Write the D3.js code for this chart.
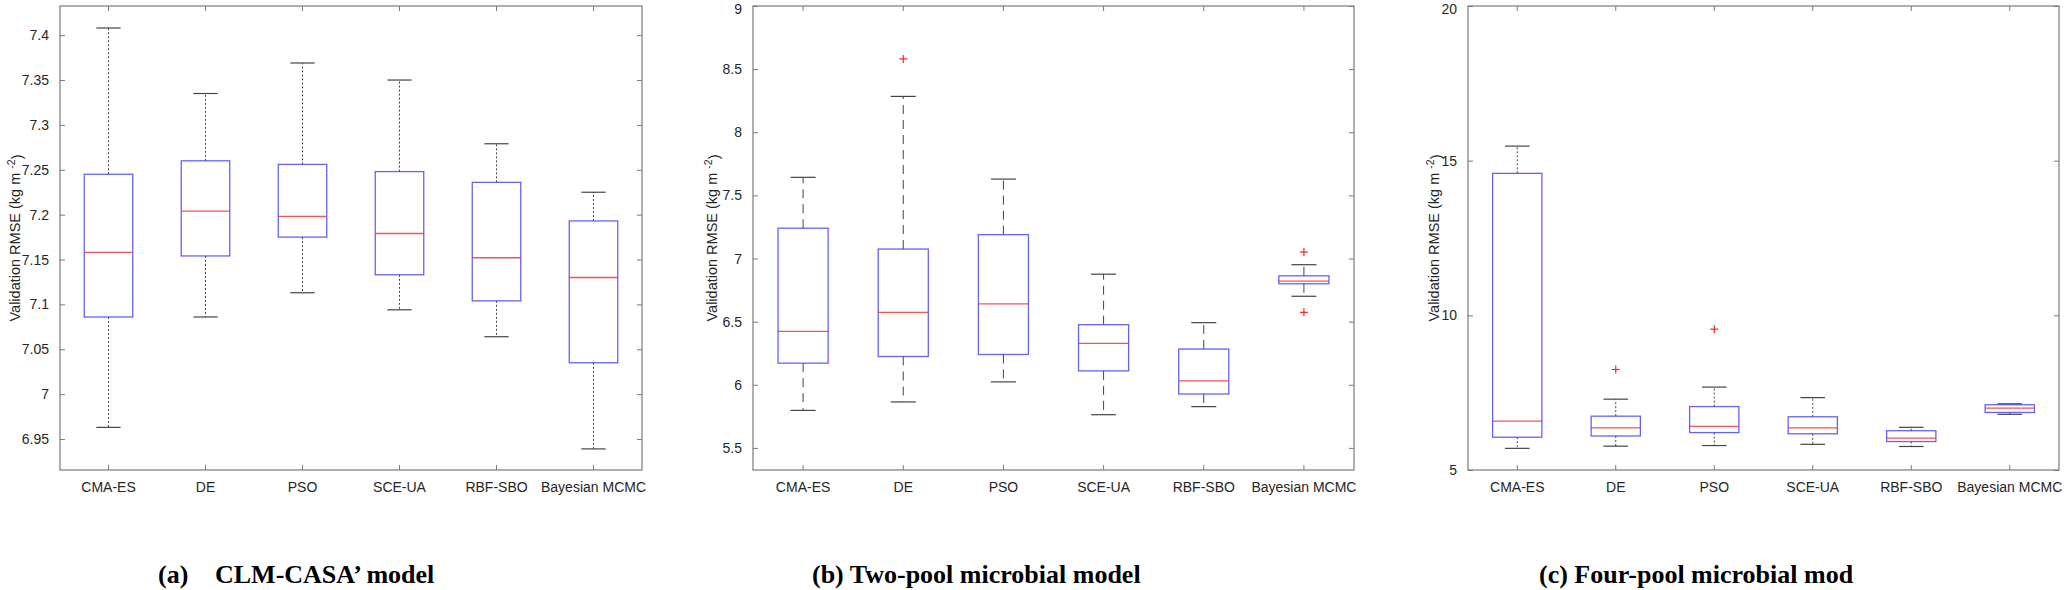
<!DOCTYPE html>
<html><head><meta charset="utf-8">
<script src="https://cdn.jsdelivr.net/npm/d3@7"></script>
<style>
html,body{margin:0;padding:0;background:#fff;}
svg{display:block;}
</style>
</head><body>
<svg id="chart" width="2067" height="590"></svg>
<script>
const categories = ["CMA-ES","DE","PSO","SCE-UA","RBF-SBO","Bayesian MCMC"];

// (a) CLM-CASA' model
const aMin = [6.963, 7.086, 7.113, 7.094, 7.064, 6.939];
const aQ1  = [7.086, 7.154, 7.175, 7.133, 7.104, 7.035];
const aMed = [7.158, 7.204, 7.198, 7.179, 7.152, 7.130];
const aQ3  = [7.245, 7.260, 7.256, 7.248, 7.236, 7.193];
const aMax = [7.408, 7.335, 7.369, 7.350, 7.279, 7.225];
const aOut = [[], [], [], [], [], []];
const aTicks = [6.95, 7, 7.05, 7.1, 7.15, 7.2, 7.25, 7.3, 7.35, 7.4];

// (b) Two-pool microbial model
const bMin = [5.797, 5.864, 6.023, 5.763, 5.827, 6.701];
const bQ1  = [6.171, 6.224, 6.240, 6.110, 5.927, 6.800];
const bMed = [6.423, 6.574, 6.641, 6.328, 6.031, 6.821];
const bQ3  = [7.240, 7.075, 7.189, 6.476, 6.283, 6.863];
const bMax = [7.643, 8.284, 7.629, 6.876, 6.492, 6.951];
const bOut = [[], [8.581], [], [], [], [7.051, 6.574]];
const bTicks = [5.5, 6, 6.5, 7, 7.5, 8, 8.5, 9];

// (c) Four-pool microbial model
const cMin = [5.70, 5.77, 5.79, 5.83, 5.76, 6.80];
const cQ1  = [6.06, 6.10, 6.21, 6.17, 5.92, 6.86];
const cMed = [6.58, 6.36, 6.41, 6.36, 6.03, 7.00];
const cQ3  = [14.59, 6.74, 7.05, 6.72, 6.27, 7.11];
const cMax = [15.47, 7.29, 7.68, 7.34, 6.38, 7.14];
const cOut = [[], [8.249], [9.554], [], [], []];
const cTicks = [5, 10, 15, 20];

const captions = ["(a)", "CLM-CASA\u2019 model", "(b) Two-pool microbial model", "(c) Four-pool microbial mod"];

const panels = [
  {left:60, right:642, domain:[6.9155, 7.4325], mins:aMin, q1:aQ1, med:aMed, q3:aQ3, maxs:aMax, outs:aOut, ticks:aTicks, dash:"2,2", ylabX:15},
  {left:753, right:1354, domain:[5.325, 9], mins:bMin, q1:bQ1, med:bMed, q3:bQ3, maxs:bMax, outs:bOut, ticks:bTicks, dash:"9,6", ylabX:712},
  {left:1468, right:2059, domain:[5, 20], mins:cMin, q1:cQ1, med:cMed, q3:cQ3, maxs:cMax, outs:cOut, ticks:cTicks, dash:"2,2", ylabX:1434}
];

const svg = d3.select("#chart");
const yTop = 6, yBot = 470;
const font = "'Liberation Sans', Arial, Helvetica, sans-serif";
const axisCol = "#7a7a7a";
const textCol = "#262626";

panels.forEach(p => {
  const x = d3.scaleBand().domain(categories).range([p.left, p.right]).paddingInner(0).paddingOuter(0);
  const y = d3.scaleLinear().domain(p.domain).range([yBot, yTop]);
  const g = svg.append("g");
  const bw = x.bandwidth();
  const boxW = bw * 0.5, capW = bw * 0.25;
  const cx = c => x(c) + bw / 2;

  // frame
  g.append("rect").attr("x", p.left).attr("y", yTop).attr("width", p.right - p.left).attr("height", yBot - yTop)
    .attr("fill", "none").attr("stroke", axisCol).attr("stroke-width", 1.2);

  // y axis (left) with inside ticks
  const yAxis = d3.axisLeft(y).tickValues(p.ticks).tickSize(-5).tickPadding(11)
    .tickFormat(v => String(+v.toFixed(2)));
  const ya = g.append("g").attr("transform", `translate(${p.left},0)`).call(yAxis);
  ya.select(".domain").remove();
  ya.selectAll(".tick line").attr("stroke", axisCol);
  ya.selectAll(".tick text").attr("fill", textCol).style("font-family", font).style("font-size", "14px")
    .attr("dy", v => (y(v) - yTop < 3 ? "0.5em" : "0.32em"));
  // right ticks
  const yr = g.append("g").attr("transform", `translate(${p.right},0)`)
    .call(d3.axisRight(y).tickValues(p.ticks).tickSize(-5).tickFormat(""));
  yr.select(".domain").remove();
  yr.selectAll(".tick line").attr("stroke", axisCol);

  // x axis (bottom) with inside ticks
  const xa = g.append("g").attr("transform", `translate(0,${yBot})`)
    .call(d3.axisBottom(x).tickSize(-5).tickPadding(12));
  xa.select(".domain").remove();
  xa.selectAll(".tick line").attr("stroke", axisCol);
  xa.selectAll(".tick text").attr("fill", textCol).style("font-family", font).style("font-size", "14px");
  const xt = g.append("g").attr("transform", `translate(0,${yTop})`)
    .call(d3.axisTop(x).tickSize(-5).tickFormat(""));
  xt.select(".domain").remove();
  xt.selectAll(".tick line").attr("stroke", axisCol);

  // y label
  const yl = g.append("text").attr("transform", `translate(${p.ylabX},${(yTop + yBot) / 2}) rotate(-90)`)
    .attr("text-anchor", "middle").attr("dy", "0.35em")
    .attr("fill", textCol).style("font-family", font).style("font-size", "14.5px");
  yl.append("tspan").text("Validation RMSE (kg m ");
  yl.append("tspan").attr("dy", "-0.45em").style("font-size", "10.5px").text("-2");
  yl.append("tspan").attr("dy", "0.45em").text(")");

  const data = categories.map((c, i) => ({c, min:p.mins[i], q1:p.q1[i], med:p.med[i], q3:p.q3[i], max:p.maxs[i], outs:p.outs[i]}));
  const bx = g.selectAll(".bx").data(data).enter().append("g");

  // whiskers (dashed)
  bx.append("line").attr("x1", d => cx(d.c)).attr("x2", d => cx(d.c))
    .attr("y1", d => y(d.q3)).attr("y2", d => y(d.max))
    .attr("stroke", "#444").attr("stroke-width", 1).attr("stroke-dasharray", p.dash);
  bx.append("line").attr("x1", d => cx(d.c)).attr("x2", d => cx(d.c))
    .attr("y1", d => y(d.q1)).attr("y2", d => y(d.min))
    .attr("stroke", "#444").attr("stroke-width", 1).attr("stroke-dasharray", p.dash);
  // caps
  bx.append("line").attr("x1", d => cx(d.c) - capW / 2).attr("x2", d => cx(d.c) + capW / 2)
    .attr("y1", d => y(d.max)).attr("y2", d => y(d.max)).attr("stroke", "#444").attr("stroke-width", 1.2);
  bx.append("line").attr("x1", d => cx(d.c) - capW / 2).attr("x2", d => cx(d.c) + capW / 2)
    .attr("y1", d => y(d.min)).attr("y2", d => y(d.min)).attr("stroke", "#444").attr("stroke-width", 1.2);
  // box
  bx.append("rect").attr("x", d => cx(d.c) - boxW / 2).attr("width", boxW)
    .attr("y", d => y(d.q3)).attr("height", d => y(d.q1) - y(d.q3))
    .attr("fill", "none").attr("stroke", "#3b3bff").attr("stroke-opacity", 0.8).attr("stroke-width", 1.3);
  // median
  bx.append("line").attr("x1", d => cx(d.c) - boxW / 2).attr("x2", d => cx(d.c) + boxW / 2)
    .attr("y1", d => y(d.med)).attr("y2", d => y(d.med))
    .attr("stroke", "#ff3030").attr("stroke-opacity", 0.85).attr("stroke-width", 1.3);
  // outliers
  bx.each(function(d) {
    const s = d3.select(this);
    d.outs.forEach(v => {
      const ox = cx(d.c), oy = y(v), r = 4;
      s.append("line").attr("x1", ox - r).attr("x2", ox + r).attr("y1", oy).attr("y2", oy).attr("stroke", "#ff2020").attr("stroke-width", 1.2);
      s.append("line").attr("x1", ox).attr("x2", ox).attr("y1", oy - r).attr("y2", oy + r).attr("stroke", "#ff2020").attr("stroke-width", 1.2);
    });
  });
});

// captions
const capFont = "'Liberation Serif', 'Times New Roman', serif";
const capStyle = t => t.attr("fill", "#000").style("font-family", capFont).style("font-size", "26px").style("font-weight", "bold");
capStyle(svg.append("text").attr("x", 158).attr("y", 583).text(captions[0]));
capStyle(svg.append("text").attr("x", 215).attr("y", 583).text(captions[1]));
capStyle(svg.append("text").attr("x", 812).attr("y", 583).text(captions[2]));
capStyle(svg.append("text").attr("x", 1539).attr("y", 583).text(captions[3]));
</script>
</body></html>
